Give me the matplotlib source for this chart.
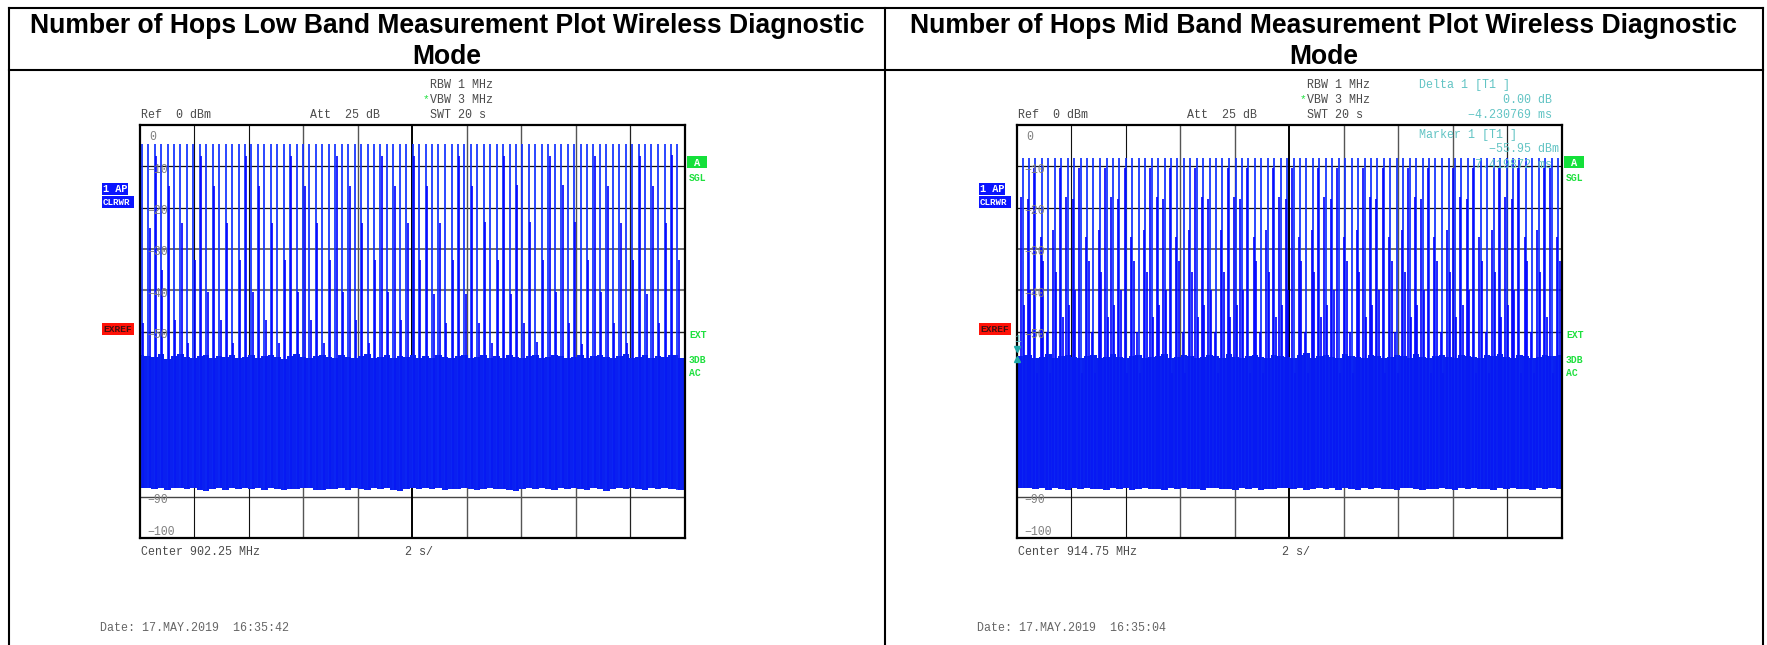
import matplotlib
matplotlib.use("Agg")
import matplotlib.pyplot as plt
from matplotlib.lines import Line2D
from matplotlib.patches import Rectangle

W, H = 1767, 645

titles = ["Number of Hops Low Band Measurement Plot Wireless Diagnostic\nMode",
          "Number of Hops Mid Band Measurement Plot Wireless Diagnostic\nMode"]

hop_times = [0.00, 0.24, 0.47, 0.71, 0.95, 1.18, 1.42, 1.66, 1.89, 2.13, 2.37, 2.60, 2.84, 3.08,
             3.31, 3.55, 3.79, 4.02, 4.26, 4.50, 4.73, 4.97, 5.21, 5.44, 5.68, 5.92, 6.15, 6.39,
             6.62, 6.86, 7.10, 7.33, 7.57, 7.81, 8.04, 8.28, 8.52, 8.75, 8.99, 9.23, 9.46, 9.70,
             9.94, 10.17, 10.41, 10.65, 10.88, 11.12, 11.36, 11.59, 11.83, 12.07, 12.30, 12.54,
             12.78, 13.01, 13.25, 13.49, 13.72, 13.96, 14.20, 14.43, 14.67, 14.91, 15.14, 15.38,
             15.62, 15.85, 16.09, 16.33, 16.56, 16.80, 17.04, 17.27, 17.51, 17.75, 17.98, 18.22,
             18.46, 18.69, 18.93, 19.17, 19.40, 19.64]

low_peak = [-4.7, -4.7, -4.7, -4.7, -4.7, -4.7, -4.7, -4.7, -4.7, -4.7, -4.7, -4.7, -4.7, -4.7,
            -4.7, -4.7, -4.7, -4.7, -4.7, -4.7, -4.7, -4.7, -4.7, -4.7, -4.7, -4.7, -4.7, -4.7,
            -4.7, -4.7, -4.7, -4.7, -4.7, -4.7, -4.7, -4.7, -4.7, -4.7, -4.7, -4.7, -4.7, -4.7,
            -4.7, -4.7, -4.7, -4.7, -4.7, -4.7, -4.7, -4.7, -4.7, -4.7, -4.7, -4.7, -4.7, -4.7,
            -4.7, -4.7, -4.7, -4.7, -4.7, -4.7, -4.7, -4.7, -4.7, -4.7, -4.7, -4.7, -4.7, -4.7,
            -4.7, -4.7, -4.7, -4.7, -4.7, -4.7, -4.7, -4.7, -4.7, -4.7, -4.7, -4.7, -4.7, -4.7]
low_side = [-48, -25, -7.4, -35, -14.8, -47.3, -23.8, -52.7, -32.7, -7.4, -40.4, -14.8, -47.3, -23.8,
            -52.7, -32.7, -7.4, -40.4, -14.8, -47.3, -23.8, -52.7, -32.7, -7.4, -40.4, -14.8, -47.3, -23.8,
            -52.7, -32.7, -7.4, -40.4, -14.8, -47.3, -23.8, -52.7, -32.7, -7.4, -40.4, -14.8, -47.3, -23.8,
            -7.4, -32.7, -14.8, -41, -23.8, -48, -32.7, -7.6, -41, -14.8, -48, -23.6,
            -52.7, -32.7, -7.4, -41, -14.5, -48, -23.6, -52.5, -32.7, -7.4, -40.4, -14.5, -48, -23.6,
            -53, -32.7, -7.4, -40.4, -14.8, -48, -23.8, -52.7, -32.7, -7.4, -41, -14.8, -48, -23.8, -7.2, -32.7]
low_top = [-55.6, -55.9, -56.2, -55.5, -56.6, -55.9, -55.5, -56.2, -56.5, -55.9, -55.6, -56.5, -55.9, -56.2,
           -55.6, -56.5, -56.2, -55.6, -56.5, -55.9, -55.6, -56.2, -56.6, -55.9, -55.5, -56.2, -56.5, -55.9,
           -55.6, -56.2, -56.5, -55.6, -56.2, -56.5, -55.9, -55.5, -56.5, -56.2, -55.6, -56.5, -55.9, -56.2,
           -55.6, -56.5, -55.9, -56.5, -55.6, -56.2, -56.5, -55.9, -55.6, -56.5, -56.2, -55.6, -56.5, -55.9,
           -56.5, -55.6, -56.2, -56.5, -55.9, -55.6, -56.5, -56.2, -55.6, -55.9, -56.5, -56.2, -55.6, -56.5,
           -55.9, -55.6, -56.2, -56.5, -55.9, -55.5, -56.5, -56.2, -55.6, -56.5, -55.9, -56.2, -55.6, -56.5]
low_bottom = [-87.8, -88, -88.2, -87.9, -88.3, -88, -87.9, -88.2, -88, -88.4, -88.7, -88.1, -88, -88.3,
              -87.9, -88.2, -88, -88.2, -88, -88.3, -87.9, -88.1, -88.3, -88.1, -88.2, -88, -87.9, -88.3,
              -88.4, -88.1, -88.2, -88, -88.3, -87.9, -88.2, -88.3, -88, -88.2, -88, -88.3, -88.6, -88.1,
              -87.9, -88.2, -88, -88.2, -87.9, -88.3, -88.1, -88.2, -88, -88.2, -88.3, -88.1, -88, -88.2,
              -88.1, -88.3, -88.5, -88.1, -88, -88.2, -87.9, -88.2, -88.3, -88, -88.2, -88, -88.1, -88.3,
              -88, -88.2, -88.5, -88.1, -87.9, -88.2, -88, -88.2, -88.3, -88, -88.2, -88, -88.2, -88.3]

mid_peak = [-8.1, -8.1, -8.1, -8.1, -8.1, -8.1, -8.1, -8.1, -8.1, -8.1, -8.1, -8.1, -8.1, -8.1,
            -8.1, -8.1, -8.1, -8.1, -8.1, -8.1, -8.1, -8.1, -8.1, -8.1, -8.1, -8.1, -8.1, -8.1,
            -8.1, -8.1, -8.1, -8.1, -8.1, -8.1, -8.1, -8.1, -8.1, -8.1, -8.1, -8.1, -8.1, -8.1,
            -8.1, -8.1, -8.1, -8.1, -8.1, -8.1, -8.1, -8.1, -8.1, -8.1, -8.1, -8.1, -8.1, -8.1,
            -8.1, -8.1, -8.1, -8.1, -8.1, -8.1, -8.1, -8.1, -8.1, -8.1, -8.1, -8.1, -8.1, -8.1,
            -8.1, -8.1, -8.1, -8.1, -8.1, -8.1, -8.1, -8.1, -8.1, -8.1, -8.1, -8.1, -8.1, -8.1]
mid_side = [-17.4, -17.8, -10.5, -27, -50, -25.5, -10.5, -17.4, -17.8, -10.5, -27, -50, -25.5, -10.5,
            -17.4, -17.8, -10.5, -27, -50, -25.5, -10.5, -17.4, -17.8, -10.5, -27, -50, -25.5, -10.5,
            -17.4, -17.8, -50, -25.5, -10.5, -17.4, -17.8, -10.5, -27, -50, -25.5, -10.5, -17.4, -17.8,
            -10.5, -27, -50, -25.5, -10.5, -17.4, -17.8, -10.5, -27, -50, -25.5, -10.5, -17.4, -17.8,
            -10.5, -27, -50, -25.5, -10.5, -17.4, -17.8, -10.5, -27, -50, -25.5, -10.5, -17.4, -17.8,
            -10.5, -27, -50, -25.5, -10.5, -17.4, -17.8, -10.5, -27, -50, -25.5, -10.5, -10.5, -27]
mid_third = [-43.6, -40, -60, -33, -60, -35.6, -46.5, -43.6, -40, -60, -33, -60, -35.6, -46.5,
             -43.6, -40, -60, -33, -60, -35.6, -46.5, -43.6, -40, -60, -33, -60, -35.6, -46.5,
             -43.6, -40, -60, -35.6, -46.5, -43.6, -40, -60, -33, -60, -35.6, -46.5, -43.6, -40,
             -60, -33, -60, -35.6, -46.5, -43.6, -40, -60, -33, -60, -35.6, -46.5, -43.6, -40,
             -60, -33, -60, -35.6, -46.5, -43.6, -40, -60, -33, -60, -35.6, -46.5, -43.6, -40,
             -60, -33, -60, -35.6, -46.5, -43.6, -40, -60, -33, -60, -35.6, -46.5, -60, -33]
mid_top = [-55.9, -55.6, -56.5, -56.2, -55.5, -56.5, -55.9, -55.6, -56.2, -56.5, -55.9, -55.6, -56.5, -56.2,
           -55.5, -56.2, -56.5, -55.9, -55.6, -56.5, -56.2, -55.9, -55.5, -56.5, -56.2, -55.6, -55.9, -56.5,
           -56.2, -55.6, -55.9, -56.5, -55.5, -56.2, -56.5, -55.9, -55.6, -56.2, -56.5, -55.6, -55.9, -56.2,
           -56.5, -55.6, -55.2, -56.5, -55.9, -55.6, -56.2, -56.5, -55.5, -55.9, -56.2, -56.5, -55.6, -55.9,
           -56.5, -56.2, -55.6, -55.9, -56.5, -55.5, -56.2, -56.5, -55.9, -55.6, -56.2, -56.5, -55.6, -55.9,
           -56.2, -56.5, -55.6, -55.9, -55.5, -56.2, -56.5, -55.6, -55.9, -56.5, -56.2, -55.6, -55.9, -55.6]
mid_bottom = [-88, -87.9, -88.2, -88, -88.3, -88, -88.1, -88.3, -88, -88.2, -87.9, -88.2, -88.1, -88.3,
              -87.9, -88.2, -88, -88.3, -88.1, -87.9, -88.2, -88.1, -88.4, -88, -88.2, -87.9, -88.2, -88.1,
              -88.3, -88, -87.9, -88.2, -88.1, -88.3, -88, -88.2, -87.9, -88.3, -88.1, -88.2, -88, -87.9,
              -88.2, -88, -88.3, -88.1, -88, -88.2, -88, -88.3, -87.9, -88.2, -88.3, -88, -88.2, -88,
              -88.2, -88.1, -88.3, -88, -87.9, -88.2, -88.3, -88.1, -88.2, -88, -88.1, -88.3, -88, -88.2,
              -87.9, -88.2, -88.1, -88.3, -88, -88.2, -88, -88.2, -88.1, -88.3, -88, -88.2, -87.9, -88.2]

y_labels = [(0, "0"), (-10, "\u221210"), (-20, "\u221220"), (-30, "\u221230"), (-40, "\u221240"),
            (-50, "\u221250"), (-90, "\u221290"), (-100, "\u2212100")]
h_grid = [(-10, "#111111", 0.9), (-20, "#111111", 0.9), (-30, "#555555", 1.2), (-40, "#777777", 1.5),
          (-50, "#222222", 1.0), (-90, "#444444", 1.0)]
v_grid = [(2, "#111111", 0.8), (4, "#111111", 0.8), (6, "#555555", 1.0), (8, "#555555", 1.0),
          (10, "#000000", 1.4), (12, "#555555", 1.0), (14, "#555555", 1.0), (16, "#555555", 1.0),
          (18, "#222222", 0.9)]

GRAY, TEAL, GREEN, BLUE = "#4a4a4a", "#62c4c4", "#1fe03f", "#0014ff"
MONO = "Liberation Mono"

fig = plt.figure(figsize=(W / 100, H / 100), dpi=100, facecolor="white")


def ftext(x, y, s, color=GRAY, size=8.4, ha="left", weight="normal", family=MONO, va="center"):
    fig.text(x / W, 1 - y / H, s, color=color, fontsize=size, ha=ha, va=va, family=family, weight=weight)


def frect(x0, y0, x1, y1, color):
    fig.add_artist(Rectangle((x0 / W, 1 - y1 / H), (x1 - x0) / W, (y1 - y0) / H,
                             transform=fig.transFigure, color=color, lw=0))


def fline(x0, y0, x1, y1):
    fig.add_artist(Line2D([x0 / W, x1 / W], [1 - y0 / H, 1 - y1 / H], transform=fig.transFigure,
                          color="black", lw=1.5, solid_capstyle="projecting"))


def panel(dx, center_x, title, start, peak, side, third, top, bottom, center, date, side_off):
    lines = title.split("\n")
    ftext(center_x, 32.7, lines[0], color="black", size=19.1, ha="center", weight="bold",
          family="Liberation Sans", va="baseline")
    ftext(center_x, 63.7, lines[1], color="black", size=19.1, ha="center", weight="bold",
          family="Liberation Sans", va="baseline")

    ax = fig.add_axes([(139.5 + dx) / W, 1 - 538 / H, 545.5 / W, 413 / H])
    ax.set_xlim(0, 20)
    ax.set_ylim(-100, 0)
    ax.set_xticks([])
    ax.set_yticks([])
    for s in ax.spines.values():
        s.set_linewidth(1.6)
        s.set_zorder(10)

    for v, c, lw in h_grid:
        ax.axhline(v, color=c, lw=lw, zorder=1)
    for v, c, lw in v_grid:
        ax.axvline(v, color=c, lw=lw, zorder=1)

    t = [v + start for v in hop_times]
    band_x = [0] + t[1:-1] + [20]
    ax.fill_between(band_x, bottom, top, step="mid", color="#0a1cf2", lw=0, zorder=2)
    ax.vlines(t, bottom, peak, color="#1030ff", lw=1.25, zorder=3)
    ax.vlines([v + side_off for v in t], bottom, side, color="#0000ff", lw=1.2, zorder=4)
    if third is not None:
        ax.vlines([v - side_off for v in t], bottom, third, color="#0000ff", lw=1.2, zorder=4)
    # fades the stripes of the pulses inside the noise band
    ax.fill_between(band_x, bottom, top, step="mid", color="#0a22f0", alpha=0.72, lw=0, zorder=5)

    for v, s in y_labels:
        yoff = -11.5 if v == 0 else (6 if v == -100 else -3.5)
        ax.annotate(s, (0, v), xycoords=("axes fraction", "data"),
                    xytext=(10 if v == 0 else 8, yoff), textcoords="offset pixels",
                    color="#808080", fontsize=8.3, family=MONO, ha="left", va="center", zorder=6)

    ftext(430 + dx, 85, "RBW 1 MHz")
    ftext(430 + dx, 100, "VBW 3 MHz")
    ftext(430 + dx, 115, "SWT 20 s")
    ftext(422.5 + dx, 99.5, "*", color=GREEN, size=8)
    ftext(141 + dx, 115, "Ref  0 dBm")
    ftext(310 + dx, 115, "Att  25 dB")
    ftext(141 + dx, 551.7, center)
    ftext(405 + dx, 551.7, "2 s/")
    ftext(100 + dx, 627.7, date, color="#666666")

    frect(102 + dx, 183, 128 + dx, 195, "#0a14ff")
    ftext(103 + dx, 189.5, "1 AP", color="white", size=7.4, weight="bold")
    frect(102 + dx, 196, 134 + dx, 208, "#0a14ff")
    ftext(103 + dx, 202.5, "CLRWR", color="white", size=6.6, weight="bold")
    frect(102 + dx, 323, 134 + dx, 335, "#ff1208")
    ftext(103 + dx, 330, "EXREF", color="#401010", size=6.8, weight="bold")
    frect(687 + dx, 156, 707 + dx, 168, "#14e03a")
    ftext(697 + dx, 163, "A", color="white", size=7.5, ha="center", weight="bold")
    ftext(689 + dx, 178, "SGL", color=GREEN, size=7, weight="bold")
    ftext(689 + dx, 335, "EXT", color=GREEN, size=7, weight="bold")
    ftext(689 + dx, 360, "3DB", color=GREEN, size=7, weight="bold")
    ftext(689 + dx, 373, "AC", color=GREEN, size=7, weight="bold")
    return ax


panel(0, 447, titles[0], 0.08, low_peak, low_side, None, low_top, low_bottom,
      "Center 902.25 MHz", "Date: 17.MAY.2019  16:35:42", 0.05)
ax2 = panel(877, 1324, titles[1], 0.22, mid_peak, mid_side, mid_third, mid_top, mid_bottom,
            "Center 914.75 MHz", "Date: 17.MAY.2019  16:35:04", -0.05)

ftext(1419, 85, "Delta 1 [T1 ]", color=TEAL)
ftext(1552, 100, "0.00 dB", color=TEAL, ha="right")
ftext(1552, 115, "\u22124.230769 ms", color=TEAL, ha="right")
ftext(1419, 135, "Marker 1 [T1 ]", color=TEAL)
ftext(1559, 149.5, "\u221255.95 dBm", color=TEAL, ha="right")
ftext(1552, 165, "7.419872 ms", color=TEAL, ha="right")
ax2.plot([0.03], [-54.3], marker="v", ms=5, color="#1fa8a8", clip_on=False, zorder=12)
ax2.plot([0.03], [-56.7], marker="^", ms=5, color="#1fa8a8", clip_on=False, zorder=12)
ax2.annotate("1", (0.03, -54.3), xytext=(0, 10), textcoords="offset pixels", color="#62c4c4",
             fontsize=8, family=MONO, ha="center", va="center", zorder=12, annotation_clip=False)

fline(9, 8, 1763, 8)
fline(9, 70, 1763, 70)
fline(9, 8, 9, 645)
fline(885, 8, 885, 645)
fline(1763, 8, 1763, 645)

fig.savefig("out.png", dpi=100)
